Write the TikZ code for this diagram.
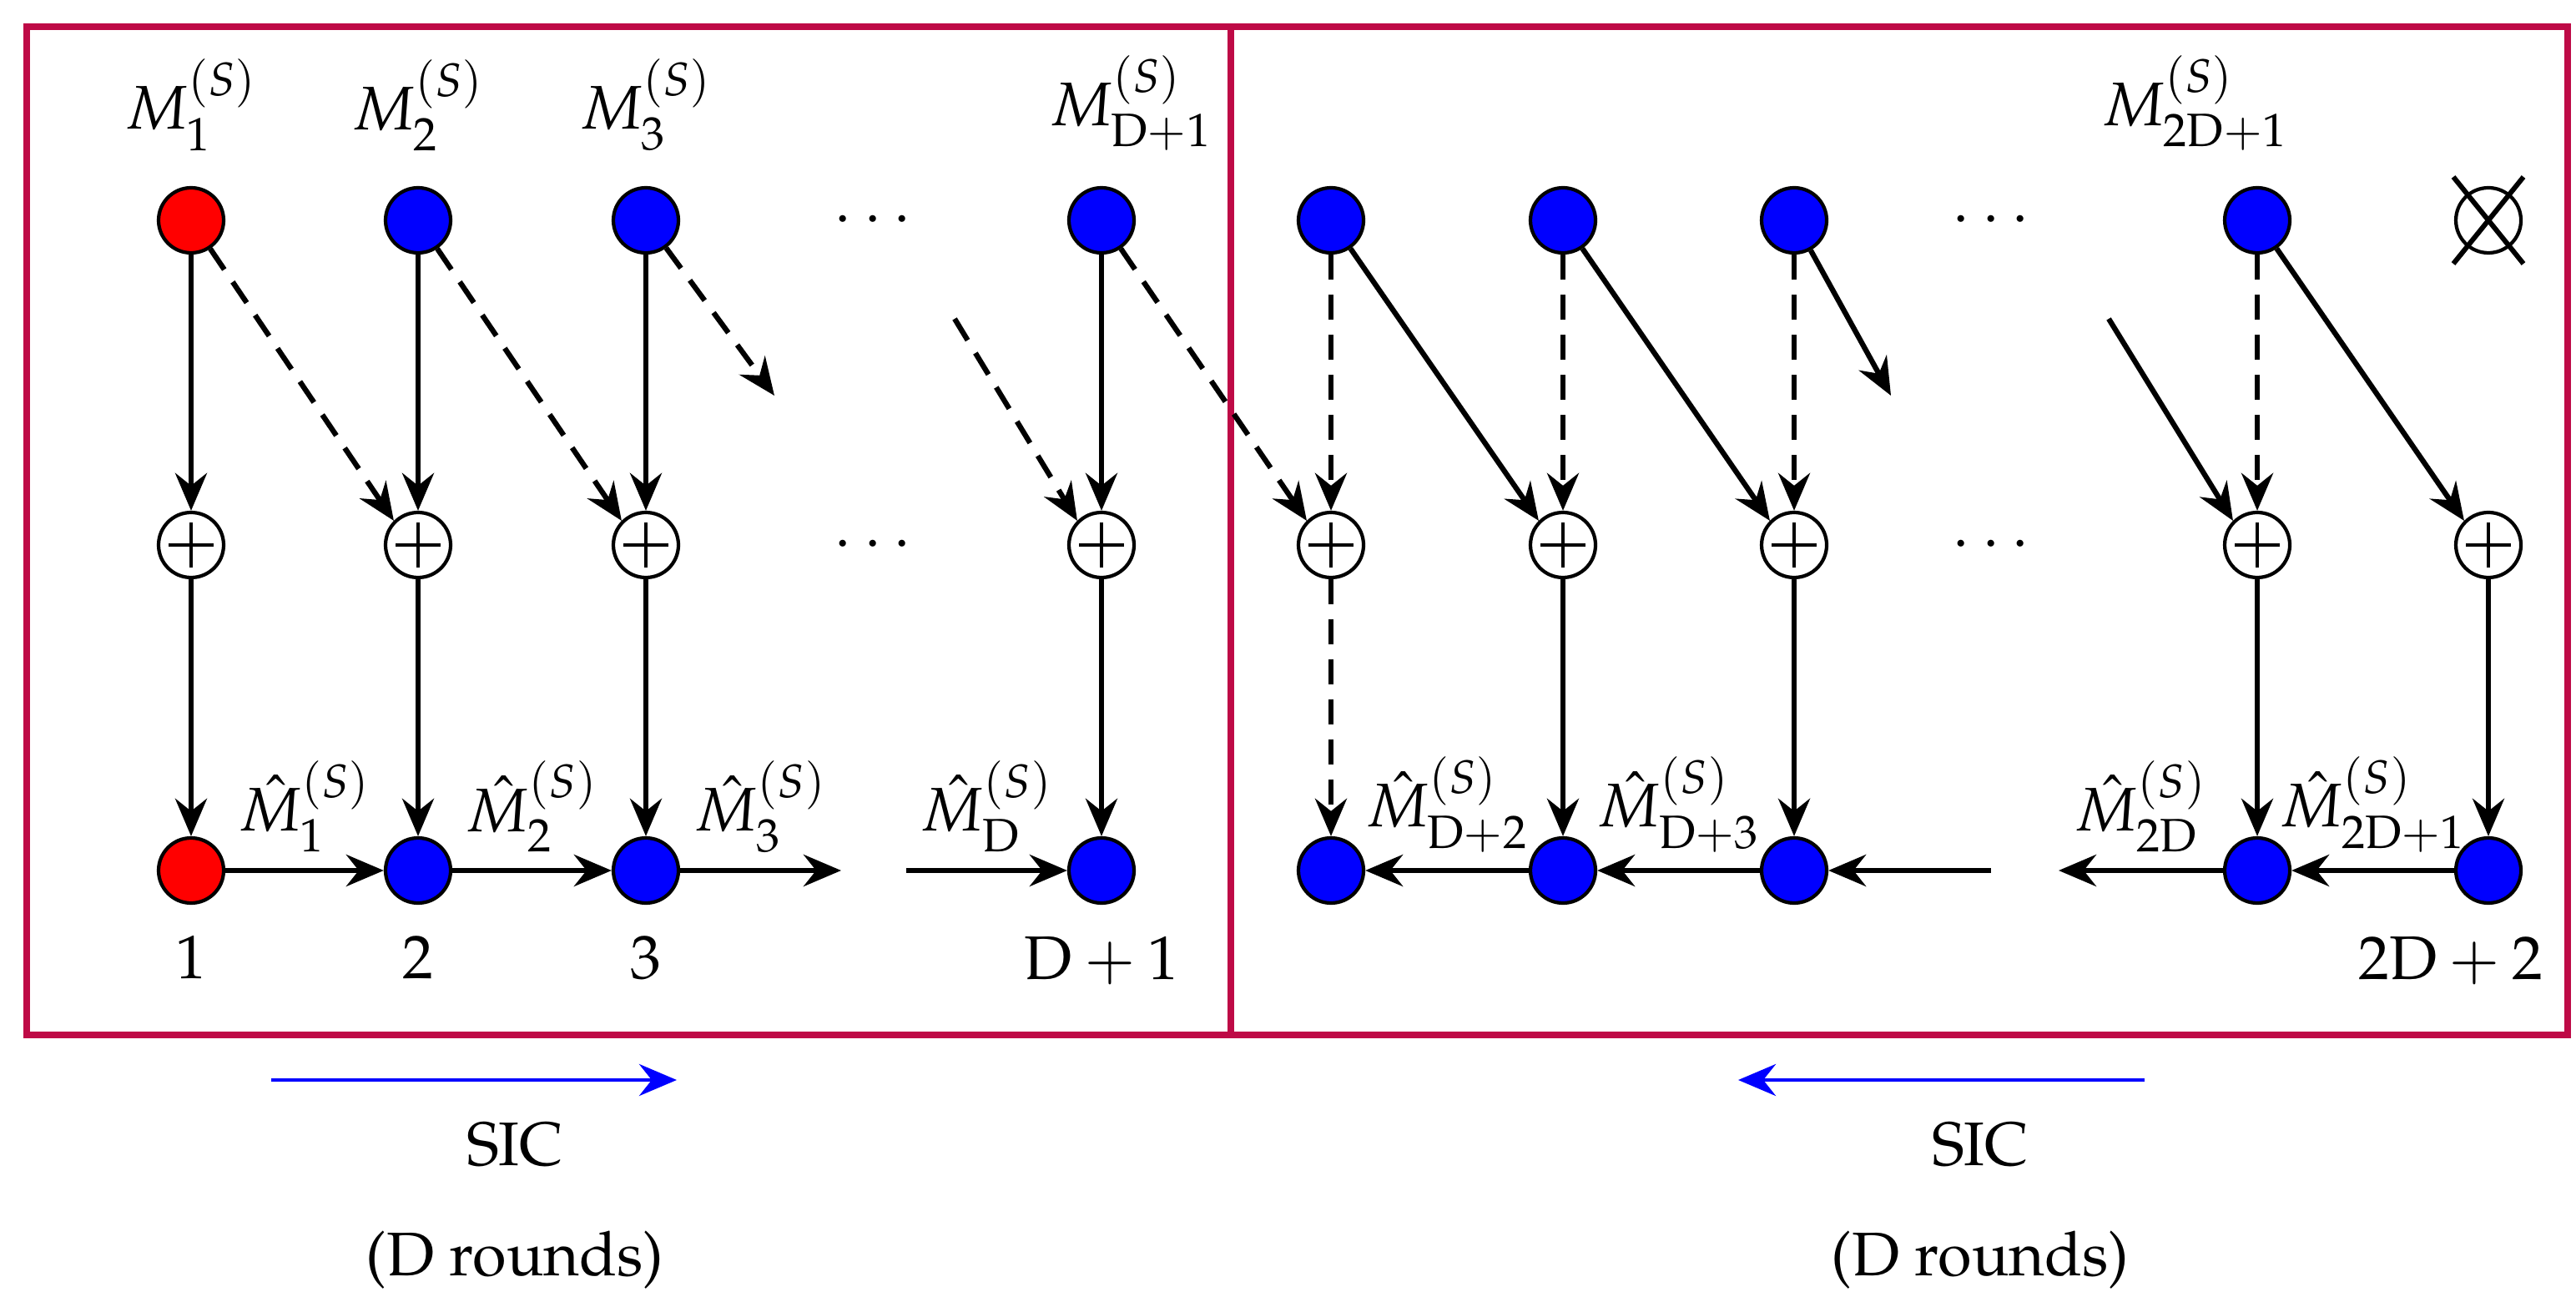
\documentclass[tikz,border=0pt]{standalone}
\usepackage[T1]{fontenc}
\usepackage{mathpazo}
\usetikzlibrary{arrows.meta, positioning}
\definecolor{framered}{RGB}{190,10,70}
\tikzset{
  user/.style={circle, draw, line width=1.2pt, minimum size=0.78cm, inner sep=0pt},
  adder/.style={circle, draw, line width=1.2pt, fill=white, minimum size=0.78cm, inner sep=0pt,
    path picture={\draw[line width=0.9pt] ([xshift=-0.27cm]path picture bounding box.center) -- ([xshift=0.27cm]path picture bounding box.center)
      ([yshift=-0.27cm]path picture bounding box.center) -- ([yshift=0.27cm]path picture bounding box.center);}},
  flow/.style={-{Stealth[length=0.45cm,width=0.38cm,inset=0.15cm]}, line width=1.8pt},
  back/.style={flow, dash pattern=on 0.3cm off 0.18cm},
}
\begin{document}
\begin{tikzpicture}[font=\fontsize{21}{25}\selectfont]
  \useasboundingbox (0,0) rectangle (30.87,-15.6);
  % frames
  \draw[framered, line width=2.4pt] (0.32,-0.32) rectangle (14.75,-12.4);
  \draw[framered, line width=2.4pt] (14.75,-0.32) rectangle (30.77,-12.4);
  % left part: top row
  \node[user, fill=red]  (t1) at (2.29,-2.64) {};
  \node[user, fill=blue] (t2) at (5.01,-2.64) {};
  \node[user, fill=blue] (t3) at (7.74,-2.64) {};
  \node[user, fill=blue] (tD) at (13.20,-2.64) {};
  % left part: adders
  \node[adder] (a1) at (2.29,-6.53) {};
  \node[adder] (a2) at (5.01,-6.53) {};
  \node[adder] (a3) at (7.74,-6.53) {};
  \node[adder] (aD) at (13.20,-6.53) {};
  % left part: receivers
  \node[user, fill=red]  (r1) at (2.29,-10.43) {};
  \node[user, fill=blue] (r2) at (5.01,-10.43) {};
  \node[user, fill=blue] (r3) at (7.74,-10.43) {};
  \node[user, fill=blue] (rD) at (13.20,-10.43) {};
  % right part
  \foreach \n/\x in {p/15.95, q/18.73, s/21.50, u/27.05}{
    \node[user, fill=blue] (t\n) at (\x,-2.64) {};
    \node[adder] (a\n) at (\x,-6.53) {};
    \node[user, fill=blue] (r\n) at (\x,-10.43) {};
  }
  \node[adder] (av) at (29.82,-6.53) {};
  \node[user, fill=blue] (rv) at (29.82,-10.43) {};
  \node[circle, draw, line width=1.2pt, minimum size=0.78cm, inner sep=0pt] (tv) at (29.82,-2.64) {};
  \draw[line width=1.7pt] ([shift={(-0.42,0.52)}]tv.center) -- ([shift={(0.42,-0.52)}]tv.center)
    ([shift={(-0.42,-0.52)}]tv.center) -- ([shift={(0.42,0.52)}]tv.center);
  % dots
  \node (d1) at (10.46,-2.64) {$\cdots$};
  \node (d2) at (10.46,-6.53) {$\cdots$};
  \node (d3) at (23.86,-2.64) {$\cdots$};
  \node (d4) at (23.86,-6.53) {$\cdots$};
  % labels
  \node[above=0.3cm of t1] {$M_1^{(S)}$};
  \node[above=0.3cm of t2] {$M_2^{(S)}$};
  \node[above=0.3cm of t3] {$M_3^{(S)}$};
  \node[above=0.3cm of tD, xshift=0.35cm] {$M_{\mathrm{D}+1}^{(S)}$};
  \node[above=0.3cm of tu, xshift=-0.75cm] {$M_{2\mathrm{D}+1}^{(S)}$};
  \node[below=0.25cm of r1] {1};
  \node[below=0.25cm of r2] {2};
  \node[below=0.25cm of r3] {3};
  \node[below=0.25cm of rD] {$\mathrm{D}+1$};
  \node[below=0.25cm of rv, xshift=-0.45cm] {$2\mathrm{D}+2$};
  % coordinates for cut arrows
  \coordinate (c1) at (9.28,-4.74);
  \coordinate (c2) at (11.44,-3.82);
  \coordinate (c3) at (22.66,-4.74);
  \coordinate (c4) at (25.27,-3.82);
  \coordinate (c5) at (10.08,-10.43);
  \coordinate (c6) at (10.86,-10.43);
  \coordinate (c7) at (23.86,-10.43);
  \coordinate (c8) at (24.67,-10.43);
  % left arrows
  \foreach \n in {1,2,3,D}{
    \draw[flow] (t\n) -- (a\n);
    \draw[flow] (a\n) -- (r\n);
  }
  \draw[back] (t1) -- (a2.north west);
  \draw[back] (t2) -- (a3.north west);
  \draw[back] (t3) -- (c1);
  \draw[back] (c2) -- (aD.north west);
  \draw[back] (tD) -- (ap.north west);
  \draw[flow] (r1) -- node[above=2pt] {$\hat{M}_1^{(S)}$} (r2);
  \draw[flow] (r2) -- node[above=2pt] {$\hat{M}_2^{(S)}$} (r3);
  \draw[flow] (r3) -- node[above=2pt] {$\hat{M}_3^{(S)}$} (c5);
  \draw[flow] (c6) -- node[above=2pt] {$\hat{M}_{\mathrm{D}}^{(S)}$} (rD);
  % right arrows
  \foreach \n in {p,q,s,u}{
    \draw[back] (t\n) -- (a\n);
  }
  \draw[back] (ap) -- (rp);
  \foreach \n in {q,s,u,v}{
    \draw[flow] (a\n) -- (r\n);
  }
  \draw[flow] (tp) -- (aq.north west);
  \draw[flow] (tq) -- (as.north west);
  \draw[flow] (ts) -- (c3);
  \draw[flow] (c4) -- (au.north west);
  \draw[flow] (tu) -- (av.north west);
  \draw[flow] (rq) -- node[above=2pt] {$\hat{M}_{\mathrm{D}+2}^{(S)}$} (rp);
  \draw[flow] (rs) -- node[above=2pt] {$\hat{M}_{\mathrm{D}+3}^{(S)}$} (rq);
  \draw[flow] (c7) -- (rs);
  \draw[flow] (ru) -- node[above=2pt] {$\hat{M}_{2\mathrm{D}}^{(S)}$} (c8);
  \draw[flow] (rv) -- node[above=2pt] {$\hat{M}_{2\mathrm{D}+1}^{(S)}$} (ru);
  % SIC direction
  \coordinate (s1) at (3.25,-12.94);
  \coordinate (s2) at (8.11,-12.94);
  \coordinate (s3) at (25.70,-12.94);
  \coordinate (s4) at (20.83,-12.94);
  \draw[flow, blue, line width=1.4pt] (s1) -- (s2);
  \draw[flow, blue, line width=1.4pt] (s3) -- (s4);
  \node (sic1) at (6.17,-13.72) {SIC};
  \node (rd1) at (6.17,-15.10) {(D rounds)};
  \node (sic2) at (23.73,-13.72) {SIC};
  \node (rd2) at (23.73,-15.10) {(D rounds)};
\end{tikzpicture}
\end{document}
